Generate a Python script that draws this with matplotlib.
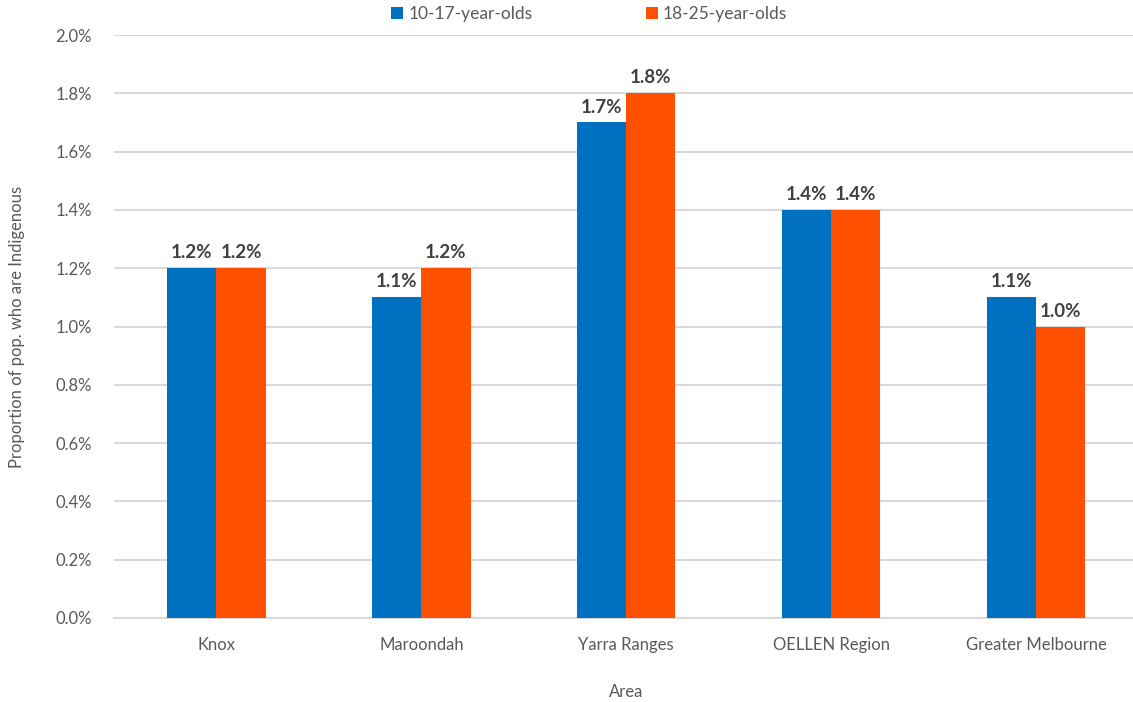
import numpy as np
import matplotlib.pyplot as plt
from matplotlib.ticker import PercentFormatter

plt.rcParams['font.family'] = ['Lato', 'DejaVu Sans']

areas = ['Knox', 'Maroondah', 'Yarra Ranges', 'OELLEN Region', 'Greater Melbourne']
youth_10_17 = [1.2, 1.1, 1.7, 1.4, 1.1]
youth_18_25 = [1.2, 1.2, 1.8, 1.4, 1.0]
series_names = ['10-17-year-olds', '18-25-year-olds']

blue = '#0070C0'
orange = '#FF5000'
grid_col = '#D9D9D9'
text_col = '#595959'

fig = plt.figure(figsize=(11.33, 7.02), dpi=100)
ax = fig.add_axes([114 / 1133, 84 / 702, 1024.5 / 1133, 583 / 702])

x = np.arange(len(areas))
w = 0.24
b1 = ax.bar(x - w / 2, youth_10_17, w, color=blue, label=series_names[0], zorder=3)
b2 = ax.bar(x + w / 2, youth_18_25, w, color=orange, label=series_names[1], zorder=3)

for bars, vals in ((b1, youth_10_17), (b2, youth_18_25)):
    for rect, v in zip(bars, vals):
        ax.annotate(f'{v:.1f}%', (rect.get_x() + rect.get_width() / 2, v),
                    xytext=(0, 5), textcoords='offset points', ha='center', va='bottom',
                    fontsize=13.5, fontweight='bold', color='#404040')

ax.set_xlim(-0.5, len(areas) - 0.5)
ax.set_ylim(0, 2.0)
ax.set_yticks(np.arange(0, 2.01, 0.2))
ax.yaxis.set_major_formatter(PercentFormatter(decimals=1))
ax.set_xticks(x)
ax.set_xticklabels(areas)
ax.tick_params(axis='both', length=0, labelsize=12, labelcolor=text_col)
ax.tick_params(axis='y', pad=16)
ax.tick_params(axis='x', pad=14)

ax.grid(axis='y', color=grid_col, linewidth=1.5, zorder=0)
for s in ['top', 'right', 'left']:
    ax.spines[s].set_visible(False)
ax.spines['bottom'].set_color(grid_col)
ax.spines['bottom'].set_linewidth(1.5)

ax.set_ylabel('Proportion of pop. who are Indigenous', fontsize=12, color=text_col, labelpad=22)
ax.set_xlabel('Area', fontsize=12, color=text_col, labelpad=22)

fig.legend(loc='upper center', bbox_to_anchor=(0.52, 1.013), ncol=2, frameon=False,
           fontsize=12.5, labelcolor=text_col, handlelength=0.7, handleheight=0.7,
           handletextpad=0.3, columnspacing=6.5)

fig.savefig('out.png', dpi=100)
